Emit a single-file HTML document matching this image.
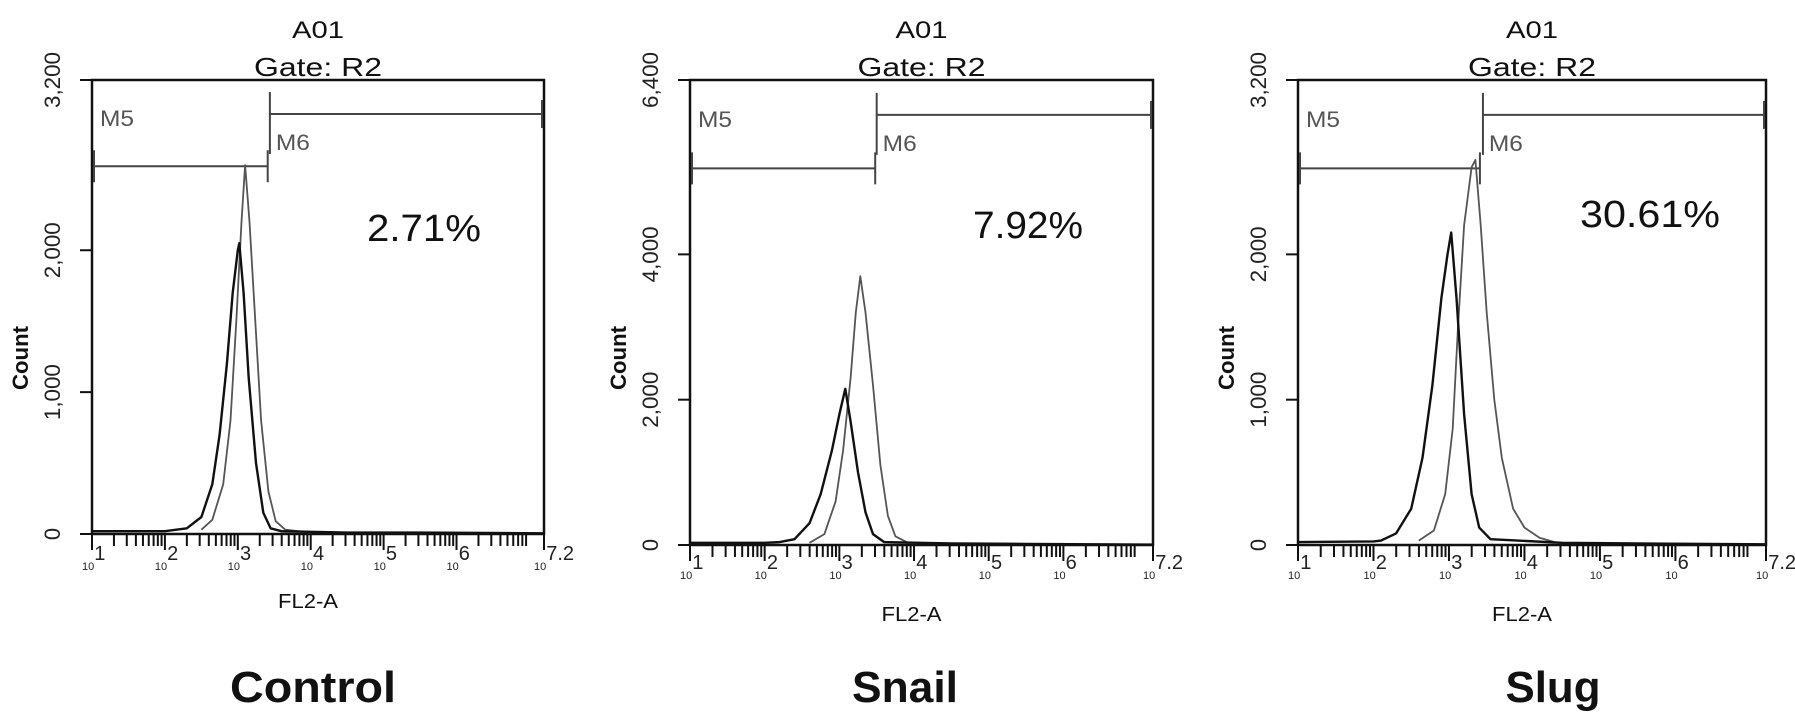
<!DOCTYPE html>
<html><head><meta charset="utf-8"><style>
html,body{margin:0;padding:0;background:#fff;}
svg{display:block;font-family:"Liberation Sans",Arial,sans-serif;}
</style></head><body>
<svg id="fig" width="1795" height="722" viewBox="0 0 1795 722" xmlns="http://www.w3.org/2000/svg"></svg>
<script>
// ---- data ----
const panelNames = ["Control", "Snail", "Slug"];
const percentLabels = ["2.71%", "7.92%", "30.61%"];
const yMaxValues = [3200, 6400, 3200];
const yTickValuesP1 = [0, 1000, 2000, 3200];
const yTickValuesP2 = [0, 2000, 4000, 6400];
const yTickValuesP3 = [0, 1000, 2000, 3200];
const yTickLabelsP1 = ["0", "1,000", "2,000", "3,200"];
const yTickLabelsP2 = ["0", "2,000", "4,000", "6,400"];
const yTickLabelsP3 = ["0", "1,000", "2,000", "3,200"];
const xDecades = [1, 2, 3, 4, 5, 6];
const xDecadeExponents = ["1", "2", "3", "4", "5", "6", "7.2"];
const markerM5End = [3.41, 3.48, 3.41];
const markerM6Start = [3.44, 3.50, 3.45];
// histogram curves: log10(FL2-A) positions and counts
const p1BlackX = [1.0, 2.0, 2.3, 2.5, 2.65, 2.75, 2.85, 2.93, 3.0, 3.02, 3.08, 3.15, 3.25, 3.35, 3.45, 3.6, 4.5, 5.5, 7.2];
const p1BlackY = [20, 20, 40, 120, 350, 700, 1200, 1700, 2000, 2050, 1700, 1100, 500, 150, 40, 20, 10, 10, 5];
const p1GrayX = [2.5, 2.65, 2.8, 2.9, 2.98, 3.05, 3.1, 3.16, 3.24, 3.32, 3.42, 3.52, 3.65, 4.0];
const p1GrayY = [30, 100, 350, 800, 1500, 2200, 2600, 2200, 1500, 800, 300, 90, 30, 10];
const p2BlackX = [1.0, 2.0, 2.2, 2.4, 2.6, 2.75, 2.9, 3.0, 3.08, 3.15, 3.25, 3.35, 3.45, 3.6, 4.5, 5.5, 7.2];
const p2BlackY = [30, 30, 40, 80, 300, 700, 1300, 1800, 2150, 1700, 1000, 450, 150, 40, 20, 15, 5];
const p2GrayX = [2.6, 2.8, 2.95, 3.05, 3.15, 3.22, 3.28, 3.35, 3.45, 3.55, 3.65, 3.75, 3.9];
const p2GrayY = [30, 150, 600, 1300, 2300, 3200, 3700, 3200, 2200, 1100, 400, 120, 40];
const p3BlackX = [1.0, 2.0, 2.1, 2.3, 2.5, 2.65, 2.78, 2.9, 2.98, 3.03, 3.1, 3.2, 3.3, 3.4, 3.55, 4.5, 5.5, 7.2];
const p3BlackY = [20, 25, 30, 80, 250, 600, 1100, 1700, 2000, 2150, 1700, 900, 350, 120, 40, 15, 10, 5];
const p3GrayX = [2.6, 2.8, 2.95, 3.05, 3.12, 3.2, 3.3, 3.35, 3.42, 3.5, 3.6, 3.7, 3.85, 4.0, 4.2, 4.4];
const p3GrayY = [30, 100, 350, 800, 1500, 2200, 2600, 2650, 2200, 1600, 1000, 600, 250, 120, 50, 20];

const blackXs = [p1BlackX, p2BlackX, p3BlackX];
const blackYs = [p1BlackY, p2BlackY, p3BlackY];
const grayXs = [p1GrayX, p2GrayX, p3GrayX];
const grayYs = [p1GrayY, p2GrayY, p3GrayY];
const yTickVals = [yTickValuesP1, yTickValuesP2, yTickValuesP3];
const yTickLabs = [yTickLabelsP1, yTickLabelsP2, yTickLabelsP3];

// ---- layout ----
const frames = [
  {l: 92, r: 544, t: 80, b: 534, xl: 566, fl: 600},
  {l: 690, r: 1153, t: 80, b: 545, xl: 575, fl: 613},
  {l: 1298, r: 1766, t: 80, b: 545, xl: 575, fl: 613}
];
const NS = "http://www.w3.org/2000/svg";
const svg = document.getElementById("fig");
function mk(tag, attrs, parent) {
  const e = document.createElementNS(NS, tag);
  for (const k in attrs) e.setAttribute(k, attrs[k]);
  (parent || svg).appendChild(e);
  return e;
}

frames.forEach((f, i) => {
  const g = mk("g", {});
  
  
  const xs = v => f.l + (v - 1) / 6.2 * (f.r - f.l);
  const ys = v => f.b - v / yMaxValues[i] * (f.b - f.t);
  const cx = (f.l + f.r) / 2;

  const t1 = mk("text", {x: cx, y: 38, "text-anchor": "middle", "font-size": 24, fill: "#111", textLength: 52, lengthAdjust: "spacingAndGlyphs"}, g);
  t1.textContent = "A01";
  
  
  const t2 = mk("text", {x: cx, y: 76, "text-anchor": "middle", "font-size": 26, fill: "#111", textLength: 128, lengthAdjust: "spacingAndGlyphs"}, g);
  t2.textContent = "Gate: R2";
  
  

  const fr = mk("rect", {x: f.l, y: f.t, width: f.r - f.l, height: f.b - f.t, fill: "none", stroke: "#111", "stroke-width": 2.5}, g);
  
  

  yTickVals[i].forEach((v, k) => {
    const y = ys(v);
    const tk = mk("line", {x1: f.l - 12, x2: f.l, y1: y, y2: y, stroke: "#111", "stroke-width": 2}, g);
    
    
    const lx = f.l - 40;
    const tl = mk("text", {x: lx, y: y, "text-anchor": "middle", "font-size": 22, fill: "#222", transform: `rotate(-90 ${lx} ${y}) translate(0 8)`}, g);
    tl.textContent = yTickLabs[i][k];
    if (yTickLabs[i][k].length > 1) { tl.setAttribute("textLength", 56); tl.setAttribute("lengthAdjust", "spacingAndGlyphs"); }
    
    
  });
  const yl = f.l - 72, ym = 358;
  const yt = mk("text", {x: yl, y: ym, "text-anchor": "middle", "font-size": 22, "font-weight": "bold", fill: "#111", textLength: 64, lengthAdjust: "spacingAndGlyphs", transform: `rotate(-90 ${yl} ${ym}) translate(0 8)`}, g);
  yt.textContent = "Count";
  
  

  xDecades.forEach(d => {
    for (let m = 1; m <= 9; m++) {
      const lv = d + Math.log10(m);
      const x = xs(lv);
      const tk = mk("line", {x1: x, x2: x, y1: f.b, y2: f.b + (m === 1 ? 16 : 12), stroke: "#111", "stroke-width": 2}, g);
      
      
    }
  });
  const endTick = mk("line", {x1: f.r, x2: f.r, y1: f.b, y2: f.b + 16, stroke: "#111", "stroke-width": 2}, g);
  
  
  xDecadeExponents.forEach((e, k) => {
    const lv = k < 6 ? xDecades[k] : 7.2;
    const x = xs(lv);
    const tl = mk("text", {x: x - 10, y: f.xl + 4, "font-size": 11, fill: "#222"}, g);
    tl.textContent = "10";
    
    
    const ex = mk("tspan", {dx: 0, dy: -10, "font-size": 20}, tl);
    ex.textContent = e;
  });
  const xt = mk("text", {x: cx - 10, y: f.fl + 8, "text-anchor": "middle", "font-size": 20, fill: "#111", textLength: 60, lengthAdjust: "spacingAndGlyphs"}, g);
  xt.textContent = "FL2-A";
  
  

  const m5x = xs(markerM5End[i]), m6x = xs(markerM6Start[i]);
  const m5y = ys(yMaxValues[i] * 0.81), m6y = ys(yMaxValues[i] * 0.925);
  const mg = mk("g", {stroke: "#444", "stroke-width": 2, fill: "none"}, g);
  
  
  mk("line", {x1: f.l + 2, x2: m5x, y1: m5y, y2: m5y}, mg);
  mk("line", {x1: m5x, x2: m5x, y1: m5y - 16, y2: m5y + 16}, mg);
  mk("line", {x1: f.l + 2, x2: f.l + 2, y1: m5y - 16, y2: m5y + 16}, mg);
  mk("line", {x1: m6x, x2: f.r - 2, y1: m6y, y2: m6y}, mg);
  mk("line", {x1: m6x, x2: m6x, y1: m6y - 22, y2: m6y + 40}, mg);
  mk("line", {x1: f.r - 2, x2: f.r - 2, y1: m6y - 14, y2: m6y + 14}, mg);
  const l5 = mk("text", {x: f.l + 8, y: m6y + 12, "font-size": 22, fill: "#555", textLength: 34, lengthAdjust: "spacingAndGlyphs"}, g);
  l5.textContent = "M5";
  
  
  const l6 = mk("text", {x: m6x + 6, y: m6y + 36, "font-size": 22, fill: "#555", textLength: 34, lengthAdjust: "spacingAndGlyphs"}, g);
  l6.textContent = "M6";
  
  

  const pts = (X, Y) => X.map((v, k) => xs(v).toFixed(1) + "," + ys(Y[k]).toFixed(1)).join(" ");
  const gc = mk("polyline", {points: pts(grayXs[i], grayYs[i]), fill: "none", stroke: "#555", "stroke-width": 1.8, "stroke-linejoin": "round"}, g);
  
  
  const bc = mk("polyline", {points: pts(blackXs[i], blackYs[i]), fill: "none", stroke: "#111", "stroke-width": 2.4, "stroke-linejoin": "round"}, g);
  
  

  const pc = [[424, 241], [1028, 238], [1650, 227]][i];
  const pw = [114, 110, 140][i];
  const pt = mk("text", {x: pc[0], y: pc[1], "text-anchor": "middle", "font-size": 38, fill: "#111", textLength: pw, lengthAdjust: "spacingAndGlyphs"}, g);
  pt.textContent = percentLabels[i];
  
  

  const bx = [313, 905, 1553][i];
  const bw = [166, 106, 95][i];
  const bt = mk("text", {x: bx, y: 702, "text-anchor": "middle", "font-size": 44, "font-weight": "bold", fill: "#111", textLength: bw, lengthAdjust: "spacingAndGlyphs"}, g);
  bt.textContent = panelNames[i];
  
  
});
</script>
</body></html>
